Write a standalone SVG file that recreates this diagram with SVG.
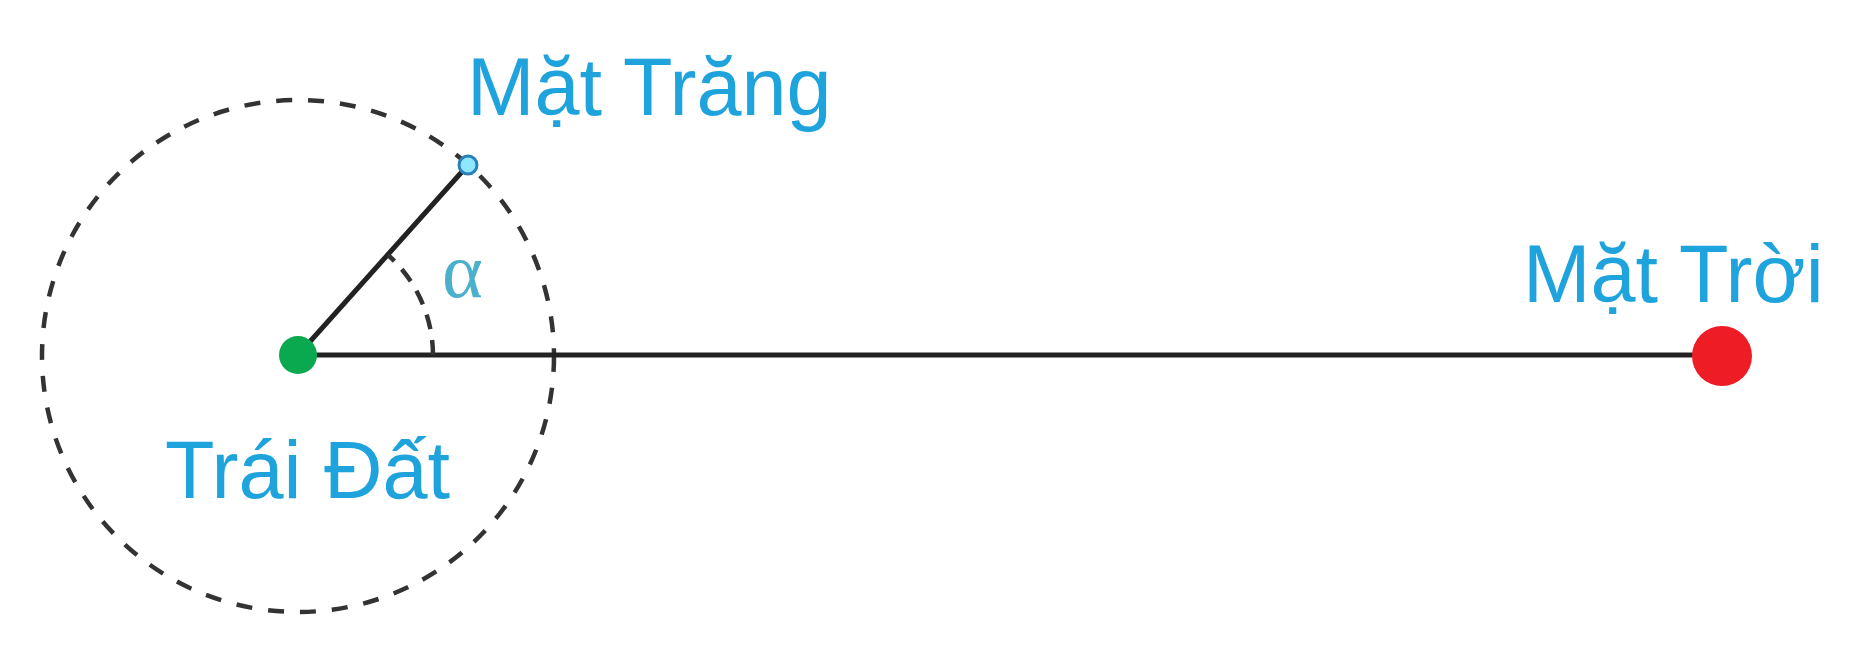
<svg xmlns="http://www.w3.org/2000/svg" width="1869" height="672" viewBox="0 0 1869 672">
  <style>
    .lbl { font-family: "Liberation Sans", Arial, sans-serif; font-size: 81px; fill: #1fa3dc; }
    .greek { font-family: "Liberation Serif", "Times New Roman", serif; font-size: 78px; fill: #4ab0cc; }
    .solid { stroke: #222; stroke-width: 5; fill: none; stroke-linecap: round; }
    .dash { stroke: #333; stroke-width: 4.5; fill: none; }
  </style>
  <rect width="1869" height="672" fill="#ffffff"/>
  <g id="orbit">
    <circle class="dash" cx="298" cy="356" r="256" stroke-dasharray="16 16"/>
  </g>
  <g id="connectors">
    <line class="solid" x1="298" y1="355" x2="1722" y2="355"/>
    <line class="solid" x1="298" y1="355" x2="468" y2="165"/>
    <path class="dash" d="M 433 355 A 135 135 0 0 0 388 255" stroke-dasharray="15 11"/>
    <text class="greek" x="442" y="297">α</text>
  </g>
  <g id="earth">
    <circle cx="298" cy="355" r="19" fill="#0aa84f"/>
    <text class="lbl" x="165" y="498">Trái Đất</text>
  </g>
  <g id="moon">
    <circle cx="468" cy="165" r="9" fill="#8fe6ff" stroke="#2a80b8" stroke-width="3"/>
    <text class="lbl" x="467" y="115">Mặt Trăng</text>
  </g>
  <g id="sun">
    <circle cx="1722" cy="356" r="30" fill="#ee1c25"/>
    <text class="lbl" x="1523" y="302">Mặt Trời</text>
  </g>
</svg>
